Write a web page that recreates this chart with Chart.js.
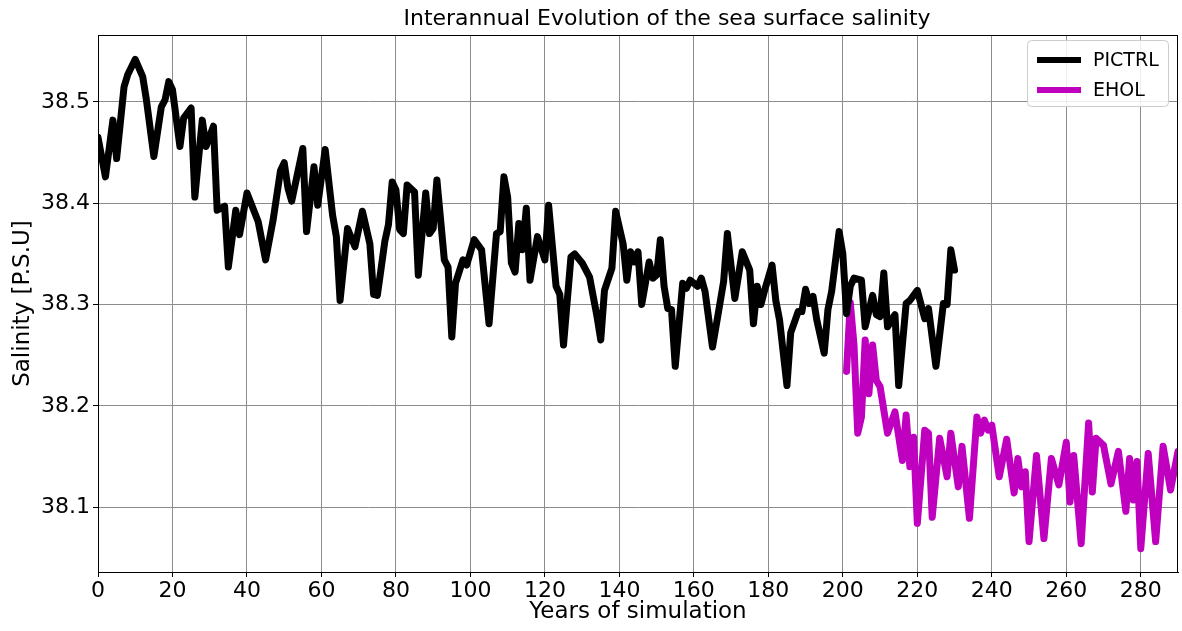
<!DOCTYPE html>
<html>
<head>
<meta charset="utf-8">
<script src="https://cdn.jsdelivr.net/npm/chart.js@4/dist/chart.umd.min.js"></script>
<style>
  html, body { margin: 0; padding: 0; background: #fff; }
  #wrap { width: 1182px; height: 631px; }
</style>
</head>
<body>
<div id="wrap"><canvas id="chart" width="1182" height="631"></canvas></div>
<script>
// --- Data ---
const pictrlYears = [0, 2, 4, 5, 7, 8, 10, 12, 13, 15, 17, 18, 19, 20, 22, 23, 25, 26, 28, 29, 31, 32, 34, 35, 37, 38, 40, 43, 45, 47, 49, 50, 51, 52, 55, 56, 58, 59, 61, 63, 64, 65, 67, 69, 71, 73, 74, 75, 76, 77, 78, 79, 80, 81, 82, 83, 85, 86, 88, 89, 90, 91, 93, 94, 95, 96, 98, 99, 101, 103, 105, 107, 108, 109, 110, 111, 112, 113, 114, 115, 116, 118, 120, 121, 123, 124, 125, 127, 128, 130, 132, 134, 135, 136, 138, 139, 141, 142, 143, 144, 145, 146, 148, 149, 150, 151, 152, 153, 154, 155, 157, 158, 159, 161, 162, 163, 165, 167, 168, 169, 171, 172, 173, 175, 176, 177, 178, 179, 181, 182, 183, 185, 186, 188, 189, 190, 191, 192, 193, 195, 196, 197, 199, 200, 201, 202, 203, 205, 206, 208, 209, 210, 211, 212, 214, 215, 217, 218, 220, 222, 223, 225, 227, 228, 229, 230];
const pictrlValues = [38.465, 38.426, 38.482, 38.444, 38.515, 38.527, 38.542, 38.525, 38.502, 38.446, 38.495, 38.502, 38.520, 38.512, 38.456, 38.484, 38.494, 38.406, 38.482, 38.456, 38.476, 38.393, 38.397, 38.337, 38.393, 38.369, 38.410, 38.382, 38.344, 38.383, 38.432, 38.440, 38.415, 38.402, 38.454, 38.372, 38.436, 38.398, 38.453, 38.388, 38.367, 38.304, 38.375, 38.357, 38.392, 38.360, 38.310, 38.309, 38.335, 38.362, 38.379, 38.421, 38.413, 38.374, 38.370, 38.418, 38.411, 38.329, 38.410, 38.370, 38.375, 38.423, 38.344, 38.337, 38.268, 38.321, 38.344, 38.339, 38.364, 38.354, 38.281, 38.370, 38.372, 38.426, 38.406, 38.341, 38.332, 38.380, 38.354, 38.395, 38.324, 38.367, 38.344, 38.398, 38.318, 38.310, 38.260, 38.347, 38.350, 38.341, 38.327, 38.288, 38.265, 38.314, 38.336, 38.392, 38.360, 38.324, 38.352, 38.342, 38.352, 38.300, 38.342, 38.326, 38.329, 38.364, 38.318, 38.296, 38.295, 38.239, 38.321, 38.316, 38.324, 38.318, 38.326, 38.313, 38.258, 38.301, 38.323, 38.370, 38.306, 38.329, 38.352, 38.334, 38.281, 38.318, 38.300, 38.314, 38.339, 38.304, 38.285, 38.220, 38.272, 38.293, 38.293, 38.315, 38.301, 38.308, 38.285, 38.252, 38.295, 38.313, 38.372, 38.350, 38.291, 38.318, 38.326, 38.324, 38.278, 38.309, 38.290, 38.288, 38.331, 38.278, 38.290, 38.220, 38.301, 38.304, 38.314, 38.286, 38.296, 38.239, 38.301, 38.300, 38.354, 38.334];

const eholYears = [201, 202, 203, 204, 205, 206, 207, 208, 209, 210, 212, 214, 216, 217, 218, 219, 220, 222, 223, 224, 226, 228, 229, 231, 232, 234, 236, 237, 238, 239, 240, 242, 244, 246, 247, 248, 249, 250, 252, 254, 256, 258, 260, 261, 262, 264, 266, 267, 268, 270, 272, 274, 276, 277, 278, 279, 280, 282, 284, 286, 288, 290];
const eholValues = [38.234, 38.302, 38.260, 38.173, 38.189, 38.265, 38.212, 38.260, 38.225, 38.219, 38.173, 38.194, 38.146, 38.191, 38.140, 38.169, 38.084, 38.176, 38.173, 38.090, 38.168, 38.130, 38.173, 38.120, 38.160, 38.089, 38.189, 38.173, 38.186, 38.176, 38.181, 38.130, 38.167, 38.114, 38.148, 38.120, 38.135, 38.066, 38.151, 38.069, 38.148, 38.122, 38.164, 38.105, 38.151, 38.064, 38.183, 38.115, 38.168, 38.161, 38.123, 38.155, 38.096, 38.148, 38.107, 38.145, 38.059, 38.153, 38.066, 38.160, 38.117, 38.155];

const xTicks = [0, 20, 40, 60, 80, 100, 120, 140, 160, 180, 200, 220, 240, 260, 280];
const yTicks = [38.1, 38.2, 38.3, 38.4, 38.5];

const seriesLabels = ['PICTRL', 'EHOL'];
const seriesColors = ['#000000', '#bf00bf'];
const chartTitle = 'Interannual Evolution of the sea surface salinity';

const FONT = "'DejaVu Sans', sans-serif";

// --- Plugins ---
// full box round the plot area (matplotlib style)
const frameBox = {
    id: 'frameBox',
    afterDraw(chart) {
        const { ctx, chartArea: a } = chart;
        ctx.save();
        ctx.strokeStyle = '#000';
        ctx.lineWidth = 1;
        ctx.strokeRect(a.left + 0.5, a.top + 0.5, a.right - a.left - 1, a.bottom - a.top);
        ctx.restore();
    }
};

// title drawn in the top margin
const topTitle = {
    id: 'topTitle',
    afterDraw(chart) {
        const { ctx } = chart;
        ctx.save();
        ctx.font = `22px ${FONT}`;
        ctx.fillStyle = '#000';
        ctx.textAlign = 'center';
        ctx.textBaseline = 'middle';
        ctx.fillText(chartTitle, 667, 19);
        ctx.restore();
    }
};

// legend in the upper right corner of the plot area
const cornerLegend = {
    id: 'cornerLegend',
    afterDraw(chart) {
        const { ctx, chartArea: a } = chart;
        const w = 141, h = 66;
        const x = a.right - 10 - w, y = a.top + 5;
        ctx.save();
        ctx.fillStyle = 'rgba(255,255,255,0.85)';
        ctx.strokeStyle = '#cccccc';
        ctx.lineWidth = 1;
        ctx.beginPath();
        ctx.roundRect(x + 0.5, y + 0.5, w, h, 4);
        ctx.fill();
        ctx.stroke();
        ctx.font = `19px ${FONT}`;
        ctx.textBaseline = 'middle';
        chart.data.datasets.forEach((ds, i) => {
            const ly = y + 20 + i * 30;
            ctx.strokeStyle = ds.borderColor;
            ctx.lineWidth = 6;
            ctx.beginPath();
            ctx.moveTo(x + 10, ly);
            ctx.lineTo(x + 54, ly);
            ctx.stroke();
            ctx.fillStyle = '#000';
            ctx.fillText(ds.label, x + 66, ly + 1);
        });
        ctx.restore();
    }
};

// --- Chart ---
const toPoints = (xs, ys) => xs.map((x, i) => ({ x, y: ys[i] }));
const lineStyle = { borderWidth: 7, pointRadius: 0, tension: 0, borderJoinStyle: 'round', borderCapStyle: 'round' };

new Chart(document.getElementById('chart'), {
    type: 'line',
    data: {
        datasets: [
            { label: seriesLabels[0], data: toPoints(pictrlYears, pictrlValues), borderColor: seriesColors[0], ...lineStyle },
            { label: seriesLabels[1], data: toPoints(eholYears, eholValues), borderColor: seriesColors[1], ...lineStyle }
        ]
    },
    options: {
        responsive: false,
        animation: false,
        layout: { padding: { left: 0, right: 4, top: 35, bottom: 0 } },
        plugins: {
            legend: { display: false },
            tooltip: { enabled: false },
            title: { display: false }
        },
        scales: {
            x: {
                type: 'linear',
                min: 0, max: 290,
                afterBuildTicks: s => { s.ticks = xTicks.map(v => ({ value: v })); },
                afterFit: s => { s.height = 59; },
                ticks: { color: '#000', font: { family: FONT, size: 22 }, padding: 1, maxRotation: 0, autoSkip: false },
                grid: { color: '#8c8c8c', lineWidth: 1, tickColor: '#000', tickLength: 5, drawTicks: true },
                border: { color: '#000', width: 1 },
                title: { display: true, text: 'Years of simulation', color: '#000', font: { family: FONT, size: 23 }, padding: { top: 0, bottom: 5 } }
            },
            y: {
                type: 'linear',
                min: 38.036, max: 38.566,
                afterBuildTicks: s => { s.ticks = yTicks.map(v => ({ value: v })); },
                afterFit: s => { s.width = 98; },
                ticks: { color: '#000', font: { family: FONT, size: 22 }, padding: 3, callback: v => v.toFixed(1) },
                grid: { color: '#8c8c8c', lineWidth: 1, tickColor: '#000', tickLength: 5, drawTicks: true },
                border: { color: '#000', width: 1 },
                title: { display: true, text: 'Salinity [P.S.U]', color: '#000', font: { family: FONT, size: 23 }, padding: { top: 9, bottom: 0 } }
            }
        }
    },
    plugins: [frameBox, topTitle, cornerLegend]
});
</script>
</body>
</html>
